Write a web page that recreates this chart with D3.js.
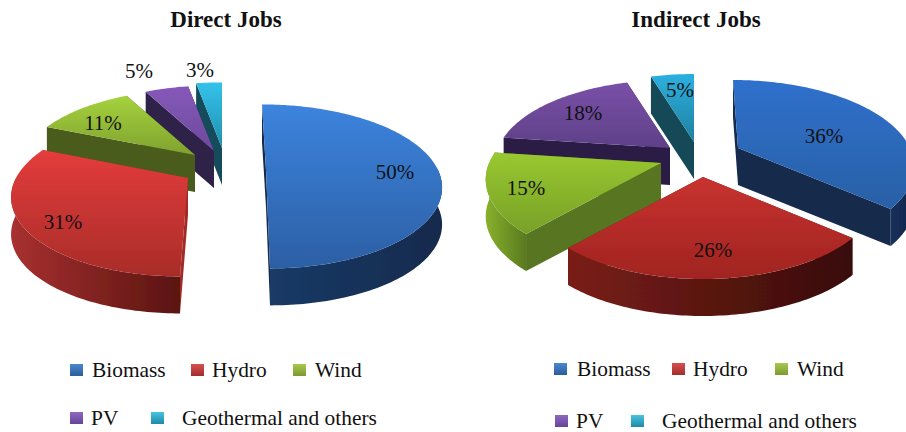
<!DOCTYPE html>
<html>
<head>
<meta charset="utf-8">
<script src="https://cdnjs.cloudflare.com/ajax/libs/d3/7.8.5/d3.min.js"></script>
<style>
  html, body { margin: 0; padding: 0; background: #fff; }
  svg { display: block; }
  text { font-family: "Liberation Serif", serif; fill: #111; }
</style>
</head>
<body>
<div id="chart"></div>
<script>
const categories = ['Biomass', 'Hydro', 'Wind', 'PV', 'Geothermal and others'];
const directJobs = [50, 31, 11, 5, 3];
const indirectJobs = [36, 26, 15, 18, 5];

// where each exploded slice's apex ends up, and where its % label sits
const directApex = [[266, 170], [188, 178], [195, 155], [214, 151], [222, 148]];
const indirectApex = [[738, 148], [703, 177], [661, 163], [670, 148], [694, 142]];
const directSkew = [-4, 8, 0, 0, 0];
const indirectSkew = [-5, 0, 0, 0, 0];
const directLabels = [[395, 172], [63, 222], [103, 123], [139, 71], [200, 70]];
const indirectLabels = [[824, 136], [713, 250], [526, 188], [583, 113], [680, 90]];

const directColors = [
  { top: ['#3c84de', '#2c5fa4'], side: ['#1a3a66', '#122a4c'], edge: '#13294a' },
  { top: ['#e43c3c', '#a82c28'], side: ['#a83030', '#5a1410'], edge: '#a02c28' },
  { top: ['#a6d23e', '#7fa22e'], side: ['#5a7020', '#4a5c1a'], edge: '#4a5c1c' },
  { top: ['#8658ba', '#6c4a9c'], side: ['#3a2858', '#2e2048'], edge: '#2e2048' },
  { top: ['#34c2ea', '#2090b0'], side: ['#145060', '#124858'], edge: '#124c5c' }
];
const indirectColors = [
  { top: ['#2f70cc', '#2a60a6'], side: ['#14305a', '#10264a'], edge: '#122a4c' },
  { top: ['#c83230', '#a02420'], side: ['#7a1e18', '#380c08'], edge: '#6a1a14' },
  { top: ['#98c830', '#78a028'], side: ['#88b02c', '#5a7a20'], edge: '#587420' },
  { top: ['#7a50a8', '#5e4088'], side: ['#30204c', '#2a1c40'], edge: '#2c1e44' },
  { top: ['#2cb0e0', '#2080a0'], side: ['#124858', '#104050'], edge: '#124858' }
];
const legendColors = [['#4a88d0', '#2c5c9c'], ['#d85050', '#a02c2c'], ['#a8c850', '#7c9a30'], ['#9068c0', '#644498'], ['#48c4e0', '#2088a8']];

const width = 906, height = 432;
const rx = 172, depth = 37;

const svg = d3.select('#chart').append('svg')
  .attr('width', width)
  .attr('height', height);
const defs = svg.append('defs');
defs.append('filter').attr('id', 'soft')
  .attr('x', '-5%').attr('y', '-5%').attr('width', '110%').attr('height', '110%')
  .append('feGaussianBlur').attr('stdDeviation', 0.6);

const pie = d3.pie().sort(null).value(d => d);
const line = d3.line();

function gradient(id, colors, horizontal) {
  const g = defs.append('linearGradient').attr('id', id)
    .attr('x1', 0).attr('y1', 0)
    .attr('x2', horizontal ? 1 : 0).attr('y2', horizontal ? 0 : 1);
  g.append('stop').attr('offset', '0%').attr('stop-color', colors[0]);
  g.append('stop').attr('offset', '100%').attr('stop-color', colors[1]);
}

function drawPie(name, values, apex, skew, labels, colors, ry) {
  const slices = pie(values).map((d, i) => ({ d, i, o: apex[i], k: skew[i] }));
  const group = svg.append('g').attr('filter', 'url(#soft)');

  // back slices first
  slices.slice().sort((a, b) => a.o[1] - b.o[1]).forEach(s => {
    // fake perspective: the near part of the disc is drawn a bit bigger
    const project = a => {
      const p = 1 - 0.2 * Math.cos(a);
      return [s.o[0] + rx * p * Math.sin(a) + s.k * Math.cos(a), s.o[1] - ry * p * Math.cos(a)];
    };
    const drop = p => [p[0], p[1] + depth];
    const a0 = s.d.startAngle, a1 = s.d.endAngle;
    const angles = d3.range(a0, a1, 0.02).concat([a1]);
    const rim = angles.map(project);
    const c = colors[s.i];
    const idTop = name + '-top-' + s.i, idSide = name + '-side-' + s.i;
    gradient(idTop, c.top, false);
    gradient(idSide, c.side, true);

    const g = group.append('g');
    const walls = [rim[0], rim[rim.length - 1]]
      .map(p => [s.o, p, drop(p), drop(s.o)])
      .sort((p, q) => (p[1][1] - q[1][1]));
    walls.forEach(w => {
      g.append('path').attr('d', line(w) + 'Z').attr('fill', c.edge);
    });

    const near = angles.filter(a => Math.cos(a) < 0.02);
    if (near.length > 1) {
      const upper = near.map(project);
      const outer = upper.concat(upper.map(drop).reverse());
      g.append('path').attr('d', line(outer) + 'Z').attr('fill', 'url(#' + idSide + ')');
    }

    g.append('path')
      .attr('d', line([s.o].concat(rim)) + 'Z')
      .attr('fill', 'url(#' + idTop + ')');
  });

  svg.append('g').selectAll('text')
    .data(values)
    .enter().append('text')
    .attr('x', (d, i) => labels[i][0])
    .attr('y', (d, i) => labels[i][1])
    .attr('dy', '0.35em')
    .attr('text-anchor', 'middle')
    .attr('font-size', 21)
    .text(d => d + '%');
}

drawPie('direct', directJobs, directApex, directSkew, directLabels, directColors, 82);
drawPie('indirect', indirectJobs, indirectApex, indirectSkew, indirectLabels, indirectColors, 85);

// titles
svg.append('text').attr('x', 226).attr('y', 27).attr('text-anchor', 'middle')
  .attr('font-size', 23).attr('font-weight', 'bold').text('Direct Jobs');
svg.append('text').attr('x', 696).attr('y', 27).attr('text-anchor', 'middle')
  .attr('font-size', 23).attr('font-weight', 'bold').text('Indirect Jobs');

// legends, swatch x / text x / baseline y per category
const directLegend = [[70, 92, 377], [191, 212, 377], [293, 315, 377], [70, 91, 425], [151, 182, 425]];
const indirectLegend = [[554, 577, 376], [672, 693, 376], [775, 797, 376], [555, 576, 428], [631, 662, 428]];

legendColors.forEach((c, i) => gradient('swatch-' + i, c, false));

function drawLegend(rows) {
  const g = svg.append('g');
  rows.forEach((r, i) => {
    g.append('rect').attr('x', r[0]).attr('y', r[2] - 13)
      .attr('width', 13).attr('height', 12)
      .attr('fill', 'url(#swatch-' + i + ')')
      .attr('filter', 'url(#soft)');
    g.append('text').attr('x', r[1]).attr('y', r[2])
      .attr('font-size', 21.4).text(categories[i]);
  });
}
drawLegend(directLegend);
drawLegend(indirectLegend);
</script>
</body>
</html>
